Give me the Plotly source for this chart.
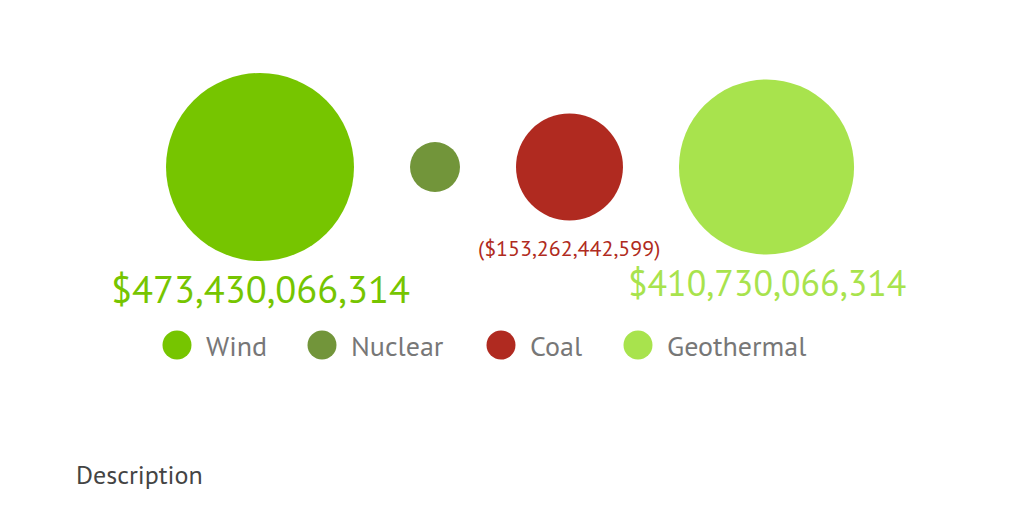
import plotly.graph_objects as go
import math

categories = ["Wind", "Nuclear", "Coal", "Geothermal"]
values = [473430066314, 33500000000, -153262442599, 410730066314]
labels = ["$473,430,066,314", "", "($153,262,442,599)", "$410,730,066,314"]
colors = ["#76c500", "#72953a", "#b02a20", "#a8e34d"]

FONT = "Liberation Sans Narrow, PT Sans, Roboto Condensed, sans-serif"
maxd = 188
mx = max(abs(v) for v in values)
diams = [maxd * math.sqrt(abs(v) / mx) for v in values]
radii = [d / 2 for d in diams]
gap = 56
xs = []
cur = 167
for r in radii:
    xs.append(cur + r)
    cur += 2 * r + gap
cy = 168

fig = go.Figure()
fig.add_trace(go.Scatter(
    x=xs, y=[cy] * 4, mode="markers",
    marker=dict(size=diams, color=colors, opacity=1, line=dict(width=0)),
    hoverinfo="skip", showlegend=False))

anns = []
for x, r, lab, c in zip(xs, radii, labels, colors):
    if lab:
        fs = max(16, r * 0.41)
        anns.append(dict(x=x, y=cy + r + 28, text=lab, showarrow=False,
                         font=dict(size=fs, color=c, family=FONT),
                         xanchor="center", yanchor="middle"))

leg_x = [178, 323, 502, 639]
fig.add_trace(go.Scatter(
    x=leg_x, y=[346] * 4, mode="markers",
    marker=dict(size=29, color=colors, opacity=1), hoverinfo="skip", showlegend=False))
for lx, cat in zip(leg_x, categories):
    anns.append(dict(x=lx + 27, y=346, text=cat, showarrow=False,
                     xanchor="left", yanchor="middle",
                     font=dict(size=28, color="#777777", family=FONT)))
anns.append(dict(x=75, y=475, text="Description", showarrow=False,
                 xanchor="left", yanchor="middle",
                 font=dict(size=26, color="#444444", family=FONT)))

fig.update_layout(
    width=1024, height=512, margin=dict(l=0, r=0, t=0, b=0),
    paper_bgcolor="white", plot_bgcolor="white",
    xaxis=dict(range=[9, 1033], visible=False, fixedrange=True),
    yaxis=dict(range=[521, 9], visible=False, fixedrange=True),
    annotations=anns)
fig.write_html("out.html")
